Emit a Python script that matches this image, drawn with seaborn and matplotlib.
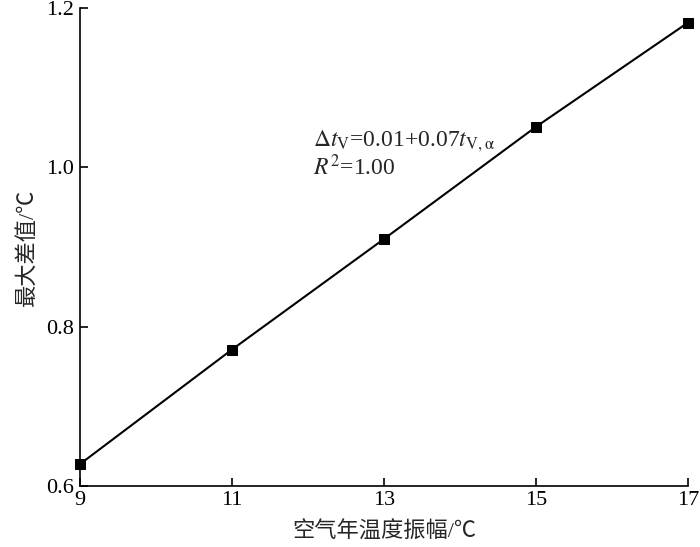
"""Max difference vs. annual air temperature amplitude."""

import matplotlib

matplotlib.use("Agg")
import matplotlib.pyplot as plt
import pandas as pd
import seaborn as sns

amplitude = [9, 11, 13, 15, 17]
max_diff = [0.627, 0.771, 0.910, 1.051, 1.182]
x_ticks = [9, 11, 13, 15, 17]
y_ticks = [0.6, 0.8, 1.0, 1.2]

sns.set_style("ticks")
plt.rcParams["font.family"] = ["Liberation Serif", "Noto Sans CJK SC"]
plt.rcParams["mathtext.fontset"] = "stix"
plt.rcParams["xtick.direction"] = "in"
plt.rcParams["ytick.direction"] = "in"

data = pd.DataFrame({"amplitude": amplitude, "max_diff": max_diff})

fig = plt.figure(figsize=(7, 5.47), dpi=100)
ax = fig.add_axes([0.114, 0.112, 0.869, 0.873])
sns.lineplot(data=data, x="amplitude", y="max_diff", ax=ax, color="black",
             linewidth=1.5, marker="s", markersize=7, markeredgecolor="black",
             clip_on=False, zorder=5)

ax.set_xlim(9, 17)
ax.set_ylim(0.6, 1.2)
ax.set_xticks(x_ticks)
ax.set_yticks(y_ticks)
ax.set_yticklabels([f"{v:.1f}" for v in y_ticks])
ax.tick_params(labelsize=16, length=6, width=1.2, colors="black", pad=4)
for side in ("left", "bottom"):
    ax.spines[side].set_linewidth(1.2)
    ax.spines[side].set_color("black")
sns.despine(ax=ax)

ax.set_xlabel("空气年温度振幅/℃", fontsize=16, labelpad=8)
ax.set_ylabel("最大差值/℃", fontsize=16, labelpad=6)

ax.text(12.07, 1.033, r"$\Delta t_{\mathrm{V}}$=0.01+0.07$t_{\mathrm{V,\alpha}}$",
        fontsize=17, va="center")
ax.text(12.07, 1.000, r"$R^{2}$=1.00", fontsize=17, va="center")

fig.savefig("out.png", dpi=100)
